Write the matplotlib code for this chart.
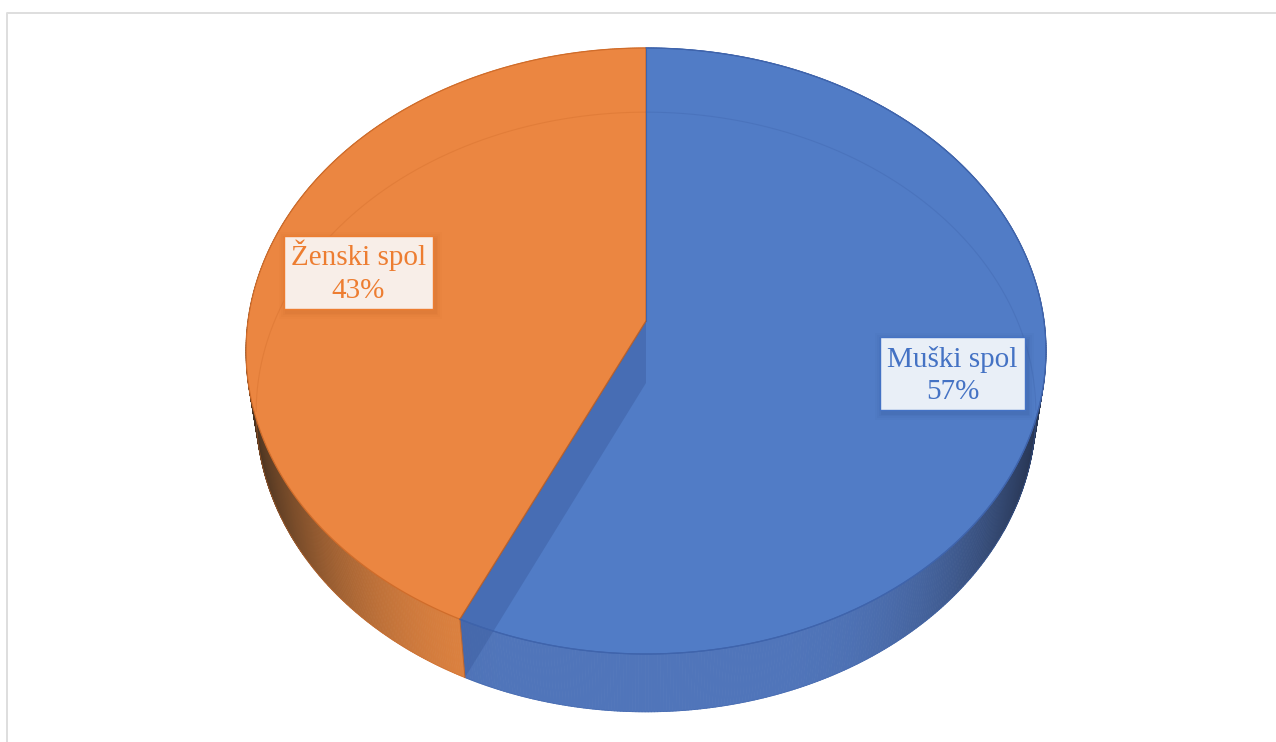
import numpy as np
import matplotlib
matplotlib.use("Agg")
import matplotlib.pyplot as plt
from matplotlib.patches import Polygon, Rectangle
from matplotlib.collections import PolyCollection

categories = ["Muški spol", "Ženski spol"]
shares = [57, 43]
top_colors = ["#517CC6", "#EB8641"]
side_colors = ["#5075BA", "#E08340"]
dark_colors = ["#26334F", "#4A3320"]
edge_colors = ["#3F64AC", "#D06C2A"]
text_colors = ["#4472C4", "#ED7D31"]
box_colors = ["#E9EFF7", "#F8EEE8"]
shadow_colors = ["#24417E", "#B05A20"]
# label boxes: x0, y0, x1, y1 in pixels, and the text's vertical offset
boxes = [(880, 337, 1025, 410), (284, 236, 433, 309)]
text_dy = [2, -1]


def project(theta, cy, c, p, q):
    """Perspective view of a horizontal disc; theta runs clockwise from the back."""
    u, v = np.sin(theta), np.cos(theta)
    w = 1 + c * v
    return 646 + q * u / w, (cy + p * v) / w


TOP = dict(cy=321, c=0.099, p=-268.25, q=398)
BOT = dict(cy=383, c=0.0967, p=-260, q=388)


def hexrgb(h):
    return np.array(matplotlib.colors.to_rgb(h))


fig = plt.figure(figsize=(12.76, 7.42), dpi=100)
ax = fig.add_axes([0, 0, 1, 1])
ax.set_xlim(0, 1276)
ax.set_ylim(742, 0)
ax.axis("off")

# frame of the embedded chart
ax.plot([6.5, 6.5, 1276], [742, 12.5, 12.5], color="#DEDEDE", lw=1.4, solid_capstyle="butt")

edges = np.concatenate([[0], np.cumsum(shares)]) / np.sum(shares) * 2 * np.pi

# side wall, shaded toward the silhouette
for i in range(2):
    th = np.linspace(edges[i], edges[i + 1], 500)
    xt, yt = project(th, **TOP)
    xb, yb = project(th, **BOT)
    verts, cols = [], []
    a0, a1 = hexrgb(side_colors[i]), hexrgb(dark_colors[i])
    for k in range(len(th) - 1):
        verts.append([(xt[k], yt[k]), (xt[k + 1], yt[k + 1]), (xb[k + 1], yb[k + 1]), (xb[k], yb[k])])
        d = abs(xb[k] - 646) / 388
        f = np.clip((d - 0.3) / 0.7, 0, 1) ** 2.4
        cols.append(tuple(a0 * (1 - f) + a1 * f))
    ax.add_collection(PolyCollection(verts, facecolors=cols, edgecolors=cols, linewidths=0.6, zorder=2))
    ax.plot(xb, yb, color=edge_colors[i], lw=0.6, alpha=0.5, zorder=2.2)

# top surfaces
for i in range(2):
    th = np.linspace(edges[i], edges[i + 1], 400)
    x, y = project(th, **TOP)
    pts = np.column_stack([np.r_[646, x], np.r_[321, y]])
    ax.add_patch(Polygon(pts, closed=True, facecolor=top_colors[i], edgecolor=edge_colors[i], lw=0.9, zorder=3))

# faint rim of the lower disc seen through the surface
for i in range(2):
    th = np.linspace(edges[i], edges[i + 1], 400)
    x, y = project(th, **BOT)
    inside = (y < 412)
    ax.plot(np.where(inside, x, np.nan), y, color=edge_colors[i], lw=0.8, alpha=0.35, zorder=3.2)

# inner cut face seen through the translucent blue slice
xa, ya = project(edges[1], **TOP)
xc, yc = project(edges[1], **BOT)
face = [(646, 321), (646, 383), (xc, yc), (xa, ya)]
ax.add_patch(Polygon(face, closed=True, facecolor="#3A5A9C", edgecolor="none", alpha=0.42, zorder=3.5))
ax.plot([646, 646], [48, 321], color="#3F64AC", lw=0.8, zorder=3.6)
ax.plot([646, xa, xc], [321, ya, yc], color="#B5602E", lw=0.7, alpha=0.8, zorder=3.6)

# front rim of the top disc over the blue wall
th = np.linspace(edges[0], edges[1], 400)
xr, yr = project(th, **TOP)
ax.plot(xr, yr, color="#3F64AC", lw=0.8, zorder=3.7)

# data labels
for name, share, box, face_c, txt_c, sh_c, dy in zip(categories, shares, boxes, box_colors, text_colors, shadow_colors, text_dy):
    x0, y0, x1, y1 = box
    for grow, al in [(7, 0.03), (5, 0.04), (3, 0.05), (1.5, 0.07)]:
        ax.add_patch(Rectangle((x0 - grow + 2, y0 - grow + 3), x1 - x0 + 2 * grow, y1 - y0 + 2 * grow,
                               facecolor=sh_c, edgecolor="none", alpha=al, zorder=4))
    ax.add_patch(Rectangle((x0, y0), x1 - x0, y1 - y0, facecolor=face_c, edgecolor=txt_c, lw=1.0, zorder=5))
    ax.text((x0 + x1) / 2, (y0 + y1) / 2 + dy, f"{name}\n{share}%", color=txt_c, ha="center", va="center",
            family="Liberation Serif", fontsize=21, linespacing=1.33, zorder=6)

fig.savefig("out.png", dpi=100, facecolor="white")
